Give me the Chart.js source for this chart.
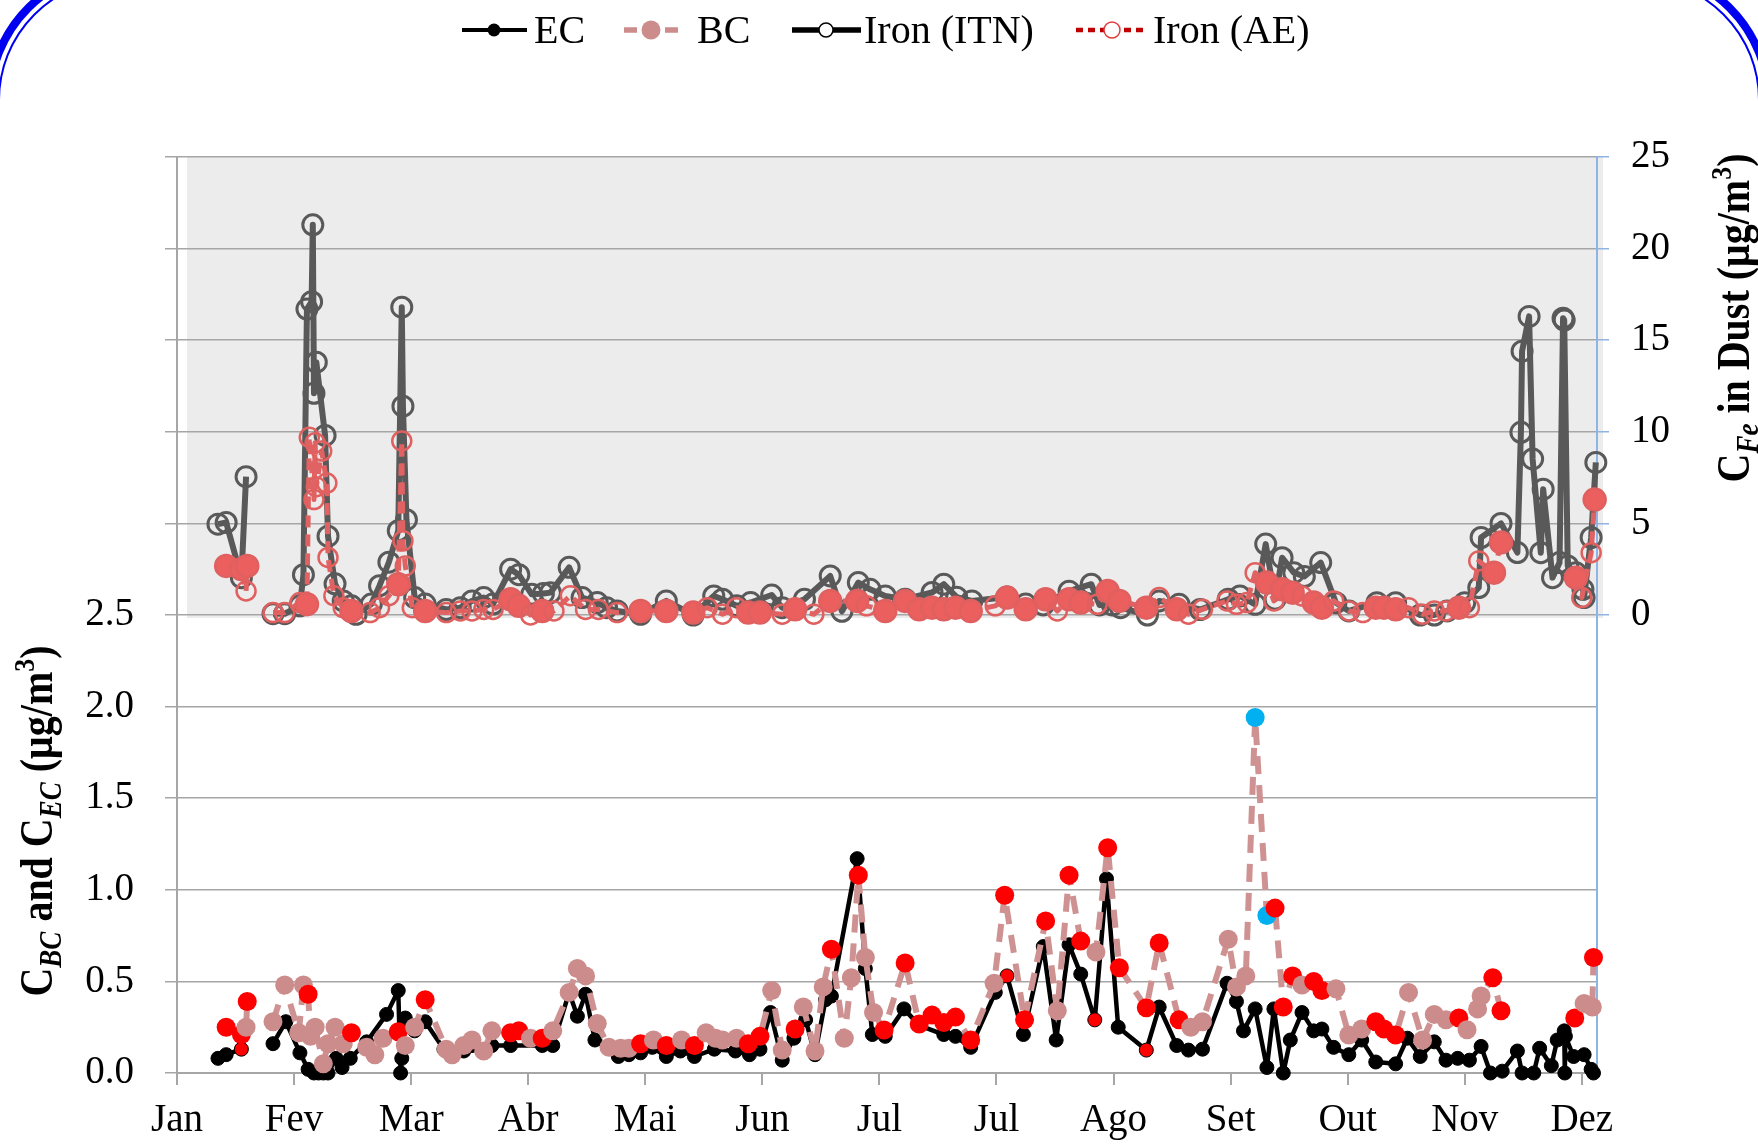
<!DOCTYPE html>
<html>

<head>
    <title>BC, EC and Iron</title>
    <script src="https://cdn.jsdelivr.net/npm/chart.js"></script>
    <style>
        body {
            margin: 0;
            background: #fff;
            overflow: hidden;
        }
    </style>
</head>

<body>
    <canvas id="chart" width="1758" height="1145"></canvas>

    <script>
        // month tick labels (x = month index, 0 = Jan)
        const months = ['Jan', 'Fev', 'Mar', 'Abr', 'Mai', 'Jun', 'Jul', 'Jul', 'Ago', 'Set', 'Out', 'Nov', 'Dez'];

        // EC (µg/m3), left axis
        const ecX = [0.35, 0.42, 0.55, 0.70, 0.82, 0.93, 1.05, 1.12, 1.17, 1.21,
            1.25, 1.29, 1.36, 1.41, 1.48, 1.62, 1.79, 1.89, 1.91, 1.92,
            1.95, 2.03, 2.12, 2.28, 2.45, 2.52, 2.69, 2.85, 3.12, 3.21,
            3.35, 3.42, 3.49, 3.57, 3.77, 3.86, 3.96, 4.06, 4.18, 4.30,
            4.42, 4.59, 4.77, 4.89, 4.98, 5.07, 5.17, 5.27, 5.37, 5.45,
            5.54, 5.59, 5.81, 5.88, 5.94, 6.05, 6.21, 6.34, 6.55, 6.65,
            6.78, 6.99, 7.09, 7.23, 7.40, 7.51, 7.62, 7.72, 7.84, 7.94,
            8.04, 8.28, 8.39, 8.54, 8.64, 8.76, 8.97, 9.05, 9.11, 9.21,
            9.31, 9.37, 9.45, 9.51, 9.61, 9.71, 9.78, 9.88, 10.01, 10.12,
            10.24, 10.41, 10.51, 10.62, 10.74, 10.84, 10.94, 11.04, 11.14, 11.22,
            11.32, 11.45, 11.49, 11.59, 11.64, 11.74, 11.79, 11.85, 11.855, 11.86,
            11.93, 12.02, 12.08, 12.10];
        const ecY = [0.08, 0.10, 0.13, null, 0.16, 0.28, 0.11, 0.02, 0.00, 0.00,
            0.00, 0.00, 0.08, 0.03, 0.08, 0.17, 0.32, 0.45, 0.00, 0.08,
            0.30, 0.23, 0.28, 0.13, 0.12, 0.15, 0.15, 0.15, 0.15, 0.15,
            0.44, 0.31, 0.43, 0.18, 0.09, 0.10, 0.11, 0.14, 0.09, 0.12,
            0.09, 0.13, 0.12, 0.10, 0.13, 0.33, 0.07, 0.19, 0.29, 0.10,
            0.40, 0.42, 1.17, 0.57, 0.21, 0.20, 0.35, 0.26, 0.21, 0.20,
            0.14, 0.44, 0.53, 0.21, 0.69, 0.18, 0.70, 0.54, 0.29, 1.06,
            0.25, 0.125, 0.36, 0.15, 0.125, 0.13, 0.49, 0.39, 0.23, 0.35,
            0.03, 0.35, 0.00, 0.18, 0.33, 0.23, 0.24, 0.14, 0.10, 0.18,
            0.06, 0.05, 0.19, 0.09, 0.17, 0.07, 0.08, 0.07, 0.145, 0.00,
            0.01, 0.12, 0.00, 0.00, 0.135, 0.04, 0.18, 0.23, 0.00, 0.20,
            0.09, 0.10, 0.02, 0.00];
        const ecRedAt = [0.55, 7.09, 7.84, 8.28];

        // BC (µg/m3), left axis; marker: p = pink, r = red, b = blue
        const bcX = [0.42, 0.55, 0.59, 0.60, 0.70, 0.82, 0.92, 1.04, 1.08, 1.12,
            1.14, 1.18, 1.25, 1.29, 1.35, 1.42, 1.49, 1.62, 1.69, 1.76,
            1.89, 1.95, 2.03, 2.12, 2.30, 2.35, 2.45, 2.52, 2.62, 2.69,
            2.85, 2.92, 3.02, 3.12, 3.21, 3.35, 3.42, 3.49, 3.59, 3.69,
            3.79, 3.86, 3.96, 4.07, 4.18, 4.31, 4.42, 4.52, 4.60, 4.66,
            4.78, 4.88, 4.98, 5.08, 5.17, 5.28, 5.35, 5.45, 5.52, 5.59,
            5.70, 5.76, 5.82, 5.88, 5.95, 6.04, 6.22, 6.34, 6.45, 6.55,
            6.65, 6.78, 6.98, 7.07, 7.24, 7.42, 7.52, 7.62, 7.72, 7.85,
            7.95, 8.05, 8.28, 8.39, 8.56, 8.66, 8.76, 8.98, 9.05, 9.13,
            9.21, 9.31, 9.38, 9.45, 9.53, 9.61, 9.71, 9.78, 9.90, 10.01,
            10.12, 10.24, 10.31, 10.41, 10.52, 10.64, 10.74, 10.84, 10.95, 11.02,
            11.11, 11.14, 11.24, 11.31, 11.60, 11.94, 12.02, 12.09, 12.10];
        const bcY = [0.25, 0.21, 0.25, 0.39, null, 0.28, 0.48, 0.22, 0.48, 0.43,
            0.20, 0.25, 0.05, 0.16, 0.25, 0.16, 0.22, 0.14, 0.10, 0.19,
            0.225, 0.15, 0.25, 0.40, 0.13, 0.10, 0.15, 0.18, 0.12, 0.23,
            0.22, 0.23, 0.19, 0.19, 0.23, 0.44, 0.57, 0.53, 0.27, 0.14,
            0.135, 0.135, 0.16, 0.18, 0.15, 0.18, 0.15, 0.22, 0.19, 0.18,
            0.19, 0.16, 0.20, 0.45, 0.125, 0.24, 0.36, 0.12, 0.47, 0.675,
            0.19, 0.52, 1.08, 0.63, 0.33, 0.235, 0.60, 0.267, 0.316, 0.275,
            0.305, 0.18, 0.49, 0.97, 0.29, 0.83, 0.34, 1.08, 0.72, 0.66,
            1.23, 0.575, 0.356, 0.71, 0.29, 0.25, 0.28, 0.73, 0.47, 0.53,
            1.94, 0.86, 0.90, 0.36, 0.53, 0.48, 0.50, 0.45, 0.46, 0.207,
            0.24, 0.28, 0.24, 0.207, 0.44, 0.18, 0.32, 0.29, 0.30, 0.236,
            0.35, 0.42, 0.52, 0.34, null, 0.30, 0.38, 0.36, 0.63];
        const bcMark = ('rrpr-ppppr' + 'pppppprppp' + 'rpprpppppp' + 'rrprpppppp' + 'pprprprppp' +
            'prrpprpppr' + 'pprpprrrrr' + 'rrprrrprrp' + 'rrrrrppppp' + 'bbrrrprrpp' +
            'prrrpppprp' + 'pprr-rppr').split('');

        // Iron (ITN), µg/m3, right axis
        const itnX = [0.35, 0.42, 0.55, 0.59, 0.70, 0.82, 0.92, 1.05, 1.08, 1.11,
            1.15, 1.16, 1.17, 1.19, 1.265, 1.29, 1.35, 1.42, 1.49, 1.53,
            1.66, 1.73, 1.81, 1.89, 1.92, 1.93, 1.96, 2.03, 2.12, 2.30,
            2.42, 2.52, 2.62, 2.70, 2.85, 2.92, 3.03, 3.13, 3.19, 3.35,
            3.46, 3.59, 3.67, 3.76, 3.96, 4.18, 4.41, 4.585, 4.66, 4.78,
            4.90, 5.08, 5.17, 5.36, 5.58, 5.68, 5.82, 5.92, 6.05, 6.22,
            6.45, 6.55, 6.66, 6.79, 7.09, 7.25, 7.40, 7.62, 7.81, 7.88,
            7.99, 8.06, 8.29, 8.39, 8.56, 8.74, 8.98, 9.08, 9.21, 9.30,
            9.38, 9.44, 9.54, 9.63, 9.77, 9.90, 10.01, 10.25, 10.41, 10.62,
            10.74, 10.85, 11.00, 11.12, 11.14, 11.31, 11.45, 11.48, 11.49, 11.55,
            11.58, 11.65, 11.67, 11.75, 11.81, 11.84, 11.85, 11.88, 11.95, 12.01,
            12.02, 12.08, 12.12];
        const itnY = [4.96, 5.05, 2.04, 7.55, null, 0.07, 0.07, 0.5, 2.2, 16.7,
            17.1, 21.3, 12.1, 13.8, 9.8, 4.3, 1.7, 0.77, 0.5, 0.04,
            0.6, 1.6, 2.88, 4.6, 16.8, 11.4, 5.2, 0.95, 0.6, 0.3,
            0.4, 0.77, 0.95, 0.6, 2.5, 2.2, 1.13, 1.17, 1.22, 2.6,
            0.95, 0.68, 0.4, 0.22, 0.04, 0.77, 0.0, 1.04, 0.86, 0.5,
            0.68, 1.09, 0.4, 0.86, 2.13, 0.2, 1.77, 1.4, 1.04, 0.86,
            1.23, 1.68, 0.97, 0.77, 0.98, 0.6, 0.55, 1.3, 1.68, 0.55,
            0.55, 0.4, 0.0, 0.77, 0.58, 0.3, 0.86, 1.04, 0.58, 3.87,
            0.86, 3.13, 2.31, 2.1, 2.86, 0.67, 0.22, 0.67, 0.67, 0.0,
            0.0, 0.22, 0.67, 1.5, 4.23, 5.0, 3.41, 9.97, 14.4, 16.3,
            8.52, 3.4, 6.87, 2.04, 2.86, 16.2, 16.1, 2.68, 2.31, 1.4,
            0.95, 4.23, 8.33];

        // Iron (AE), µg/m3, right axis; marker: f = filled, o = open
        const aeX = [0.42, 0.55, 0.59, 0.60, 0.70, 0.82, 0.92, 1.05, 1.11, 1.13,
            1.17, 1.18, 1.19, 1.236, 1.28, 1.29, 1.34, 1.42, 1.49, 1.65,
            1.73, 1.81, 1.89, 1.92, 1.93, 1.95, 2.01, 2.12, 2.30, 2.42,
            2.52, 2.62, 2.70, 2.85, 2.92, 3.02, 3.12, 3.22, 3.36, 3.49,
            3.60, 3.76, 3.96, 4.18, 4.41, 4.53, 4.66, 4.78, 4.88, 4.98,
            5.17, 5.28, 5.44, 5.58, 5.81, 5.89, 6.05, 6.22, 6.34, 6.45,
            6.55, 6.65, 6.78, 6.99, 7.09, 7.25, 7.42, 7.52, 7.62, 7.72,
            7.86, 7.95, 8.05, 8.28, 8.39, 8.54, 8.64, 8.76, 8.97, 9.05,
            9.14, 9.21, 9.31, 9.37, 9.44, 9.53, 9.61, 9.71, 9.78, 9.88,
            10.01, 10.13, 10.24, 10.31, 10.41, 10.52, 10.64, 10.74, 10.84, 10.95,
            11.04, 11.12, 11.25, 11.31, 11.60, 11.95, 12.00, 12.08, 12.11];
        const aeY = [2.68, 2.5, 1.31, 2.68, null, 0.13, 0.13, 0.68, 0.59, 9.7,
            6.3, 9.4, 7.0, 8.95, 7.2, 3.14, 1.05, 0.4, 0.22, 0.13,
            0.4, 1.05, 1.68, 9.5, 4.05, 2.68, 0.4, 0.22, 0.13, 0.22,
            0.22, 0.3, 0.3, 0.86, 0.5, 0.0, 0.22, 0.22, 1.05, 0.3,
            0.3, 0.13, 0.22, 0.22, 0.13, 0.4, 0.04, 0.4, 0.13, 0.13,
            0.04, 0.31, 0.04, 0.77, 0.77, 0.5, 0.22, 0.77, 0.31, 0.4,
            0.31, 0.4, 0.22, 0.5, 0.95, 0.31, 0.86, 0.22, 0.86, 0.68,
            0.58, 1.31, 0.77, 0.4, 0.95, 0.31, 0.04, 0.31, 0.77, 0.58,
            0.68, 2.31, 1.77, 0.77, 1.4, 1.22, 1.04, 0.68, 0.4, 0.77,
            0.22, 0.13, 0.4, 0.4, 0.31, 0.4, 0.04, 0.22, 0.22, 0.4,
            0.4, 2.95, 2.31, 3.96, null, 2.04, 0.95, 3.4, 6.3];
        const aeMark = ('ffof-ooofo' + 'oooooooofo' + 'oofoooofoo' + 'oooffofooo' + 'oofffoooff' +
            'ofoffoffff' + 'fffofffoff' + 'offfofoooo' + 'oofoffoffo' + 'oofffoooof' +
            'ooff-foof').split('');

        const SERIF = "'Liberation Serif', 'Times New Roman', serif";
        const GRID = '#a6a6a6';
        const BLUE_AXIS = '#8eb4e3';
        const BC_COLORS = { p: '#cc8c8c', r: '#ff0000', b: '#00b0f0', '-': '#cc8c8c' };

        function pts(xs, ys) {
            return xs.map((x, i) => ({ x: x, y: ys[i] }));
        }

        // draws a line of text made of pieces with their own fonts (sub/superscripts)
        function richText(ctx, parts, x, y) {
            let w = 0;
            parts.forEach(p => { ctx.font = p.f; w += ctx.measureText(p.t).width; });
            let cx = x - w / 2;
            parts.forEach(p => {
                ctx.font = p.f;
                ctx.fillText(p.t, cx, y + (p.dy || 0));
                cx += ctx.measureText(p.t).width;
            });
        }

        const backdrop = {
            id: 'backdrop',
            beforeDraw(chart) {
                const ctx = chart.ctx;
                const area = chart.chartArea;
                const y = chart.scales.y;
                ctx.save();
                ctx.fillStyle = '#fff';
                ctx.fillRect(0, 0, chart.width, chart.height);
                // grey band behind the iron panel
                const y25 = y.getPixelForValue(2.5);
                ctx.fillStyle = '#ececec';
                ctx.fillRect(area.left + 10, area.top, area.right - area.left - 4, y25 + 3 - area.top);
                ctx.restore();
            }
        };

        const decorations = {
            id: 'decorations',
            afterDraw(chart) {
                const ctx = chart.ctx;
                ctx.save();
                ctx.fillStyle = '#000';
                ctx.textAlign = 'left';
                ctx.textBaseline = 'alphabetic';

                // slide border arcs in the top corners
                [[120, 100, Math.PI, 1.5 * Math.PI], [chart.width - 120, 100, 1.5 * Math.PI, 2 * Math.PI]].forEach(a => {
                    ctx.strokeStyle = '#0000f0';
                    ctx.lineWidth = 8;
                    ctx.beginPath();
                    ctx.arc(a[0], a[1], 130, a[2], a[3]);
                    ctx.stroke();
                    ctx.lineWidth = 2;
                    ctx.beginPath();
                    ctx.arc(a[0], a[1], 121, a[2], a[3]);
                    ctx.stroke();
                });

                // legend
                const ly = 30;
                const legendFont = '40px ' + SERIF;
                ctx.lineCap = 'butt';
                // EC
                ctx.strokeStyle = '#000';
                ctx.lineWidth = 4;
                ctx.setLineDash([]);
                ctx.beginPath(); ctx.moveTo(462, ly); ctx.lineTo(527, ly); ctx.stroke();
                ctx.beginPath(); ctx.arc(494, ly, 6.5, 0, 2 * Math.PI); ctx.fill();
                // BC
                ctx.strokeStyle = '#cc8c8c';
                ctx.fillStyle = '#cc8c8c';
                ctx.lineWidth = 5.5;
                ctx.beginPath(); ctx.moveTo(624, ly); ctx.lineTo(637, ly); ctx.moveTo(665, ly); ctx.lineTo(678, ly); ctx.stroke();
                ctx.beginPath(); ctx.arc(651, ly, 9.5, 0, 2 * Math.PI); ctx.fill();
                // Iron (ITN)
                ctx.strokeStyle = '#000';
                ctx.lineWidth = 5.5;
                ctx.beginPath(); ctx.moveTo(792, ly); ctx.lineTo(861, ly); ctx.stroke();
                ctx.fillStyle = '#fff';
                ctx.lineWidth = 1.5;
                ctx.beginPath(); ctx.arc(826, ly, 7, 0, 2 * Math.PI); ctx.fill(); ctx.stroke();
                // Iron (AE)
                ctx.strokeStyle = '#c00000';
                ctx.lineWidth = 4.5;
                ctx.setLineDash([7, 5]);
                ctx.beginPath(); ctx.moveTo(1076, ly); ctx.lineTo(1148, ly); ctx.stroke();
                ctx.setLineDash([]);
                ctx.strokeStyle = '#e03c3c';
                ctx.lineWidth = 1.5;
                ctx.beginPath(); ctx.arc(1112, ly, 8, 0, 2 * Math.PI); ctx.fill(); ctx.stroke();

                ctx.fillStyle = '#000';
                ctx.font = legendFont;
                ctx.fillText('EC', 534, ly + 13);
                ctx.fillText('BC', 697, ly + 13);
                ctx.fillText('Iron (ITN)', 864, ly + 13);
                ctx.fillText('Iron (AE)', 1153, ly + 13);

                // axis titles
                const B = 'bold 40px ' + SERIF;
                const BI = 'bold italic 27px ' + SERIF;
                const SUP = 'bold 26px ' + SERIF;
                ctx.save();
                ctx.translate(36, 821);
                ctx.rotate(-Math.PI / 2);
                ctx.scale(1, 1.15);
                richText(ctx, [
                    { t: 'C', f: B }, { t: 'BC', f: BI, dy: 8 }, { t: ' and C', f: B },
                    { t: 'EC', f: BI, dy: 8 }, { t: ' (μg/m', f: B }, { t: '3', f: SUP, dy: -16 }, { t: ')', f: B }
                ], 0, 14);
                ctx.restore();

                ctx.save();
                ctx.translate(1733, 318);
                ctx.rotate(-Math.PI / 2);
                ctx.scale(1, 1.15);
                richText(ctx, [
                    { t: 'C', f: B }, { t: 'Fe', f: BI, dy: 8 }, { t: ' in Dust (μg/m', f: B },
                    { t: '3', f: SUP, dy: -16 }, { t: ')', f: B }
                ], 0, 14);
                ctx.restore();

                ctx.restore();
            }
        };

        const tickFont = { family: SERIF, size: 39 };

        new Chart(document.getElementById('chart'), {
            type: 'line',
            data: {
                datasets: [
                    {
                        label: 'EC',
                        data: pts(ecX, ecY),
                        yAxisID: 'y',
                        borderColor: '#000',
                        borderWidth: 4.5,
                        pointRadius: 7,
                        pointBackgroundColor: ecX.map(x => ecRedAt.includes(x) ? '#ff0000' : '#000'),
                        pointBorderColor: '#000',
                        pointBorderWidth: 1,
                        order: 2
                    },
                    {
                        label: 'BC',
                        data: pts(bcX, bcY),
                        yAxisID: 'y',
                        borderColor: '#cf9292',
                        borderWidth: 6,
                        borderDash: [18, 11],
                        pointRadius: 9.5,
                        pointBackgroundColor: bcMark.map(m => BC_COLORS[m]),
                        pointBorderColor: bcMark.map(m => BC_COLORS[m]),
                        pointBorderWidth: 0,
                        order: 1
                    },
                    {
                        label: 'Iron (ITN)',
                        data: pts(itnX, itnY),
                        yAxisID: 'y2',
                        borderColor: '#595959',
                        borderWidth: 6,
                        pointRadius: 10,
                        pointBackgroundColor: 'rgba(0,0,0,0)',
                        pointBorderColor: '#595959',
                        pointBorderWidth: 3,
                        order: 4
                    },
                    {
                        label: 'Iron (AE)',
                        data: pts(aeX, aeY),
                        yAxisID: 'y2',
                        borderColor: '#e06262',
                        borderWidth: 5,
                        borderDash: [12, 7],
                        pointRadius: aeMark.map(m => m === 'f' ? 11 : 9.5),
                        pointBackgroundColor: aeMark.map(m => m === 'f' ? '#ec5f5f' : 'rgba(0,0,0,0)'),
                        pointBorderColor: '#e06060',
                        pointBorderWidth: 2.5,
                        order: 3
                    }
                ]
            },
            options: {
                responsive: false,
                animation: false,
                devicePixelRatio: 1,
                clip: false,
                layout: { padding: { top: 157, left: 0, right: 0, bottom: 0 } },
                elements: { line: { tension: 0, borderJoinStyle: 'round' } },
                plugins: {
                    legend: { display: false },
                    tooltip: { enabled: false }
                },
                scales: {
                    x: {
                        type: 'linear',
                        min: 0,
                        max: 12.13,
                        ticks: {
                            stepSize: 1,
                            includeBounds: false,
                            autoSkip: false,
                            maxRotation: 0,
                            padding: 12,
                            color: '#000',
                            font: tickFont,
                            callback: v => months[v]
                        },
                        grid: { drawOnChartArea: false, tickLength: 12, color: GRID, lineWidth: 2 },
                        border: { color: GRID, width: 2 },
                        afterFit: s => { s.height = 72; }
                    },
                    y: {
                        position: 'left',
                        min: 0,
                        max: 5,
                        ticks: {
                            stepSize: 0.5,
                            padding: 31,
                            color: '#000',
                            font: tickFont,
                            callback: v => v <= 2.5 ? v.toFixed(1) : ''
                        },
                        grid: { color: GRID, lineWidth: 1.5, tickLength: 12 },
                        border: { color: GRID, width: 2 },
                        afterFit: s => { s.width = 177; }
                    },
                    y2: {
                        position: 'right',
                        min: -25,
                        max: 25,
                        ticks: {
                            stepSize: 5,
                            padding: 22,
                            color: '#000',
                            font: tickFont,
                            callback: v => v >= 0 ? v : ''
                        },
                        grid: {
                            drawOnChartArea: false,
                            tickLength: 12,
                            lineWidth: 1.5,
                            color: c => (c.tick && c.tick.value >= 0) ? BLUE_AXIS : 'rgba(0,0,0,0)'
                        },
                        border: { color: BLUE_AXIS, width: 2 },
                        afterFit: s => { s.width = 161; }
                    }
                }
            },
            plugins: [backdrop, decorations]
        });
    </script>
</body>

</html>
